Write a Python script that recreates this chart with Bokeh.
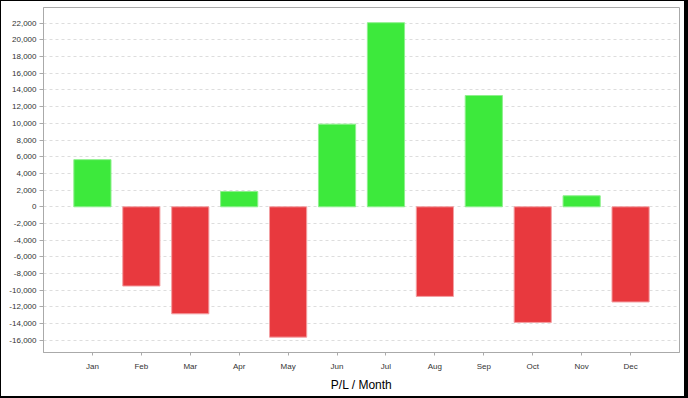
from bokeh.plotting import figure
from bokeh.models import FactorRange, Range1d, SingleIntervalTicker, NumeralTickFormatter, ColumnDataSource, InlineStyleSheet
from bokeh.embed import file_html
from bokeh.resources import INLINE

months = ["Jan", "Feb", "Mar", "Apr", "May", "Jun", "Jul", "Aug", "Sep", "Oct", "Nov", "Dec"]
pl = [5650, -9490, -12820, 1830, -15610, 9900, 22050, -10730, 13330, -13850, 1320, -11400]
title_text = "P/L / Month"

GREEN, GREEN_EDGE = "#3de93c", "#8ef08d"
RED, RED_EDGE = "#e8393e", "#f3a0a3"

W, H = 688, 398

src = ColumnDataSource(dict(
    m=months, v=pl,
    fc=[GREEN if x >= 0 else RED for x in pl],
    lc=[GREEN_EDGE if x >= 0 else RED_EDGE for x in pl],
))

p = figure(width=W, height=H, output_backend="svg", toolbar_location=None,
           x_range=FactorRange(factors=months, range_padding=0.5, range_padding_units="absolute"),
           y_range=Range1d(-17450, 23870),
           min_border_left=43, min_border_right=9, min_border_top=7, min_border_bottom=46)
p.background_fill_color = "white"
p.border_fill_color = "white"
p.outline_line_color = "#aaaaaa"
p.outline_line_width = 1

# outer black border of the chart image, as a CSS overlay
p.stylesheets = [InlineStyleSheet(css=(
    ".bk-Canvas::after { content: ''; position: absolute; left: 0; top: 0; right: 0; bottom: 0; "
    "box-sizing: border-box; border-style: solid; border-color: black; "
    "border-width: 1px 4px 2px 1px; pointer-events: none; z-index: 10; }"
))]

p.vbar(x="m", top="v", bottom=0, width=0.76, source=src,
       fill_color="fc", line_color="lc", line_width=1)

p.xgrid.grid_line_color = None
p.ygrid.grid_line_color = "#dddddd"
p.ygrid.grid_line_dash = "3 3"
p.ygrid.grid_line_width = 1

yax = p.yaxis[0]
yax.ticker = SingleIntervalTicker(interval=2000)
yax.formatter = NumeralTickFormatter(format="0,0")
yax.axis_line_color = "#aaaaaa"
yax.major_tick_line_color = "#aaaaaa"
yax.major_tick_out = 4
yax.major_tick_in = 0
yax.minor_tick_line_color = None
yax.major_label_text_font = "Liberation Sans"
yax.major_label_text_font_size = "8px"
yax.major_label_text_color = "#333333"
yax.major_label_standoff = 3

xax = p.xaxis[0]
xax.axis_line_color = "#aaaaaa"
xax.major_tick_line_color = "#aaaaaa"
xax.major_tick_out = 3
xax.major_tick_in = 0
xax.minor_tick_line_color = None
xax.major_label_text_font = "Liberation Sans"
xax.major_label_text_font_size = "8px"
xax.major_label_text_color = "#333333"
xax.major_label_standoff = 6
xax.axis_label = title_text
xax.axis_label_text_font = "Liberation Sans"
xax.axis_label_text_font_style = "normal"
xax.axis_label_text_font_size = "12px"
xax.axis_label_text_color = "#000000"
xax.axis_label_standoff = 4

open("out.html", "w").write(file_html(p, INLINE))
